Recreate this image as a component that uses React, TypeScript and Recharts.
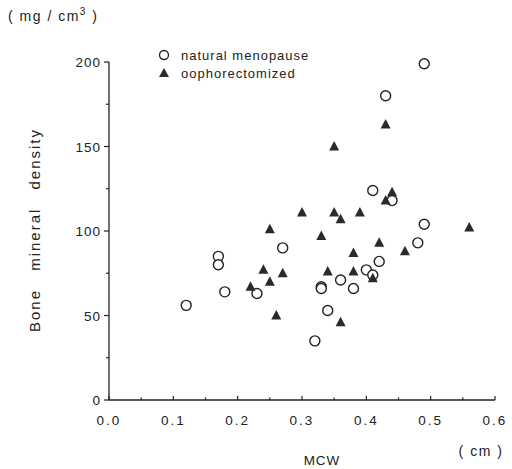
import React from "react";
import { ScatterChart, Scatter, XAxis, YAxis } from "recharts";

const naturalX = [0.49, 0.43, 0.41, 0.44, 0.49, 0.27, 0.17, 0.17, 0.48, 0.42, 0.40, 0.41, 0.36, 0.33, 0.33, 0.38, 0.18, 0.23, 0.12, 0.34, 0.32];
const naturalY = [199, 180, 124, 118, 104, 90, 85, 80, 93, 82, 77, 74, 71, 67, 66, 66, 64, 63, 56, 53, 35];

const oophX = [0.43, 0.35, 0.44, 0.43, 0.30, 0.35, 0.36, 0.39, 0.25, 0.56, 0.33, 0.42, 0.46, 0.38, 0.24, 0.27, 0.34, 0.38, 0.41, 0.25, 0.22, 0.26, 0.36];
const oophY = [163, 150, 123, 118, 111, 111, 107, 111, 101, 102, 97, 93, 88, 87, 77, 75, 76, 76, 72, 70, 67, 50, 46];

const xTicks = [0, 0.05, 0.1, 0.15, 0.2, 0.25, 0.3, 0.35, 0.4, 0.45, 0.5, 0.55, 0.6];
const yTicks = [0, 25, 50, 75, 100, 125, 150, 175, 200];

const natural = naturalX.map((x, i) => ({ x, y: naturalY[i] }));
const ooph = oophX.map((x, i) => ({ x, y: oophY[i] }));

const ink = "#222";
const font = "'Liberation Sans', Arial, sans-serif";

const Circle = (props: any) => (
  <circle cx={props.cx} cy={props.cy} r={5} fill="#fff" stroke={ink} strokeWidth={1.4} />
);

const Triangle = (props: any) => {
  const { cx, cy } = props;
  return <path d={`M${cx},${cy - 5.5} L${cx + 5},${cy + 4} L${cx - 5},${cy + 4} Z`} fill="#2a2a2a" />;
};

const YTick = (props: any) => {
  const { x, y, payload } = props;
  const major = payload.value % 50 === 0;
  return (
    <g>
      <line x1={x - (major ? 5 : 3)} x2={x} y1={y} y2={y} stroke={ink} strokeWidth={1.2} />
      {major && (
        <text x={x - 8} y={y + 5} textAnchor="end" fontSize={13.5} fill={ink} fontFamily={font} letterSpacing={1}>
          {payload.value}
        </text>
      )}
    </g>
  );
};

const XTick = (props: any) => {
  const { x, y, payload } = props;
  const major = Math.round(payload.value * 100) % 10 === 0;
  return (
    <g>
      <line x1={x} x2={x} y1={y} y2={y - (major ? 4 : 2.5)} stroke={ink} strokeWidth={1.2} />
      {major && (
        <text x={x} y={y + 25} textAnchor="middle" fontSize={13.5} fill={ink} fontFamily={font} letterSpacing={2}>
          {payload.value.toFixed(1)}
        </text>
      )}
    </g>
  );
};

export default function App() {
  return (
    <div style={{ position: "absolute", left: 0, top: 0, width: 512, height: 469, background: "#fff", fontFamily: font, color: ink }}>
      <ScatterChart width={512} height={469} margin={{ top: 62, right: 17, bottom: 39, left: 49 }}>
        <XAxis
          type="number"
          dataKey="x"
          domain={[0, 0.6]}
          ticks={xTicks}
          interval={0}
          height={30}
          tickSize={0}
          tickMargin={0}
          tickLine={false}
          axisLine={{ stroke: ink, strokeWidth: 1.3 }}
          tick={<XTick />}
        />
        <YAxis
          type="number"
          dataKey="y"
          domain={[0, 200]}
          ticks={yTicks}
          interval={0}
          width={60}
          tickSize={0}
          tickMargin={0}
          tickLine={false}
          axisLine={{ stroke: ink, strokeWidth: 1.3 }}
          tick={<YTick />}
        />
        <Scatter name="natural menopause" data={natural} shape={<Circle />} isAnimationActive={false} />
        <Scatter name="oophorectomized" data={ooph} shape={<Triangle />} isAnimationActive={false} />
      </ScatterChart>
      <svg width={220} height={40} style={{ position: "absolute", left: 158, top: 47, overflow: "visible" }}>
        <circle cx={6} cy={8} r={4.5} fill="#fff" stroke={ink} strokeWidth={1.3} />
        <text x={23} y={12.5} fontSize={13} fill={ink} fontFamily={font} letterSpacing={1}>natural menopause</text>
        <path d="M6,21 L11,30 L1,30 Z" fill="#2a2a2a" />
        <text x={23} y={31} fontSize={13} fill={ink} fontFamily={font} letterSpacing={1}>oophorectomized</text>
      </svg>
      <div style={{ position: "absolute", left: 8, top: 6, fontSize: 14, letterSpacing: 1.5, whiteSpace: "pre" }}>
        {"( mg / cm"}<sup style={{ fontSize: 10 }}>3</sup>{" )"}
      </div>
      <div
        style={{
          position: "absolute",
          left: 34,
          top: 230,
          transform: "translate(-50%, -50%) rotate(-90deg)",
          fontSize: 15,
          letterSpacing: 2,
          wordSpacing: 12,
          whiteSpace: "nowrap",
        }}
      >
        Bone mineral density
      </div>
      <div style={{ position: "absolute", left: 322, top: 460, transform: "translate(-50%, -50%)", fontSize: 13.5, letterSpacing: 1 }}>
        MCW
      </div>
      <div style={{ position: "absolute", left: 481, top: 451, transform: "translate(-50%, -50%)", fontSize: 14, letterSpacing: 1.5, whiteSpace: "pre" }}>
        {"( cm )"}
      </div>
    </div>
  );
}
